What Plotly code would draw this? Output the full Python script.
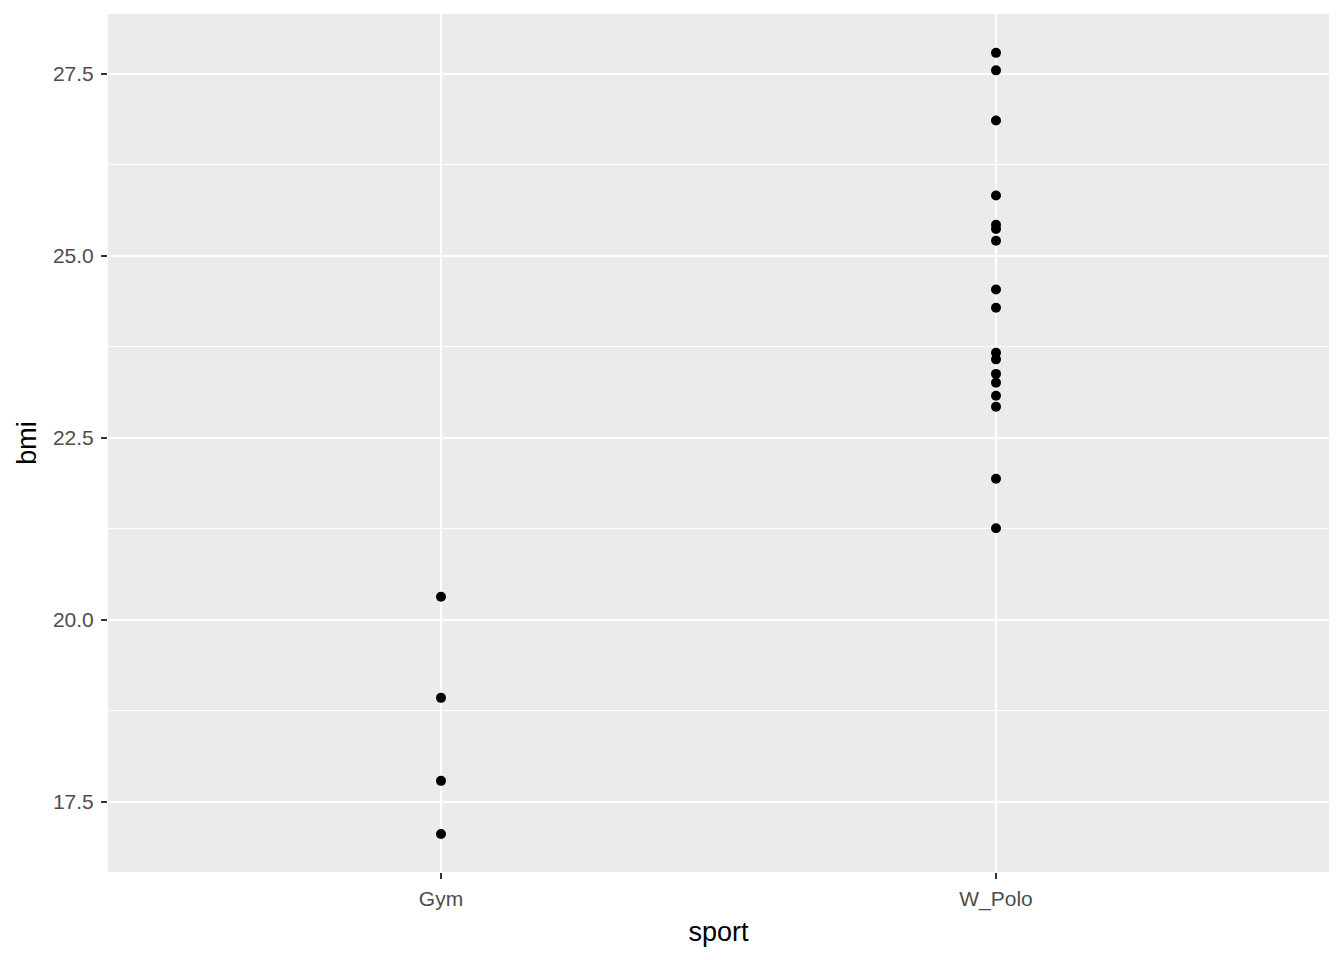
import plotly.graph_objects as go

gym_bmi = [20.32, 18.93, 17.79, 17.06]
wpolo_bmi = [27.79, 27.55, 26.86, 25.83, 25.43, 25.37, 25.21, 24.54, 24.29,
             23.67, 23.58, 23.38, 23.26, 23.08, 22.93, 21.94, 21.26]
categories = ["Gym", "W_Polo"]

xs = [categories[0]] * len(gym_bmi) + [categories[1]] * len(wpolo_bmi)
ys = gym_bmi + wpolo_bmi

fig = go.Figure()
fig.add_trace(go.Scatter(x=xs, y=ys, mode="markers",
                         marker=dict(color="black", size=10),
                         showlegend=False))

font = "Liberation Sans, Arial, sans-serif"
fig.update_layout(
    width=1328, height=944,
    margin=dict(l=100, r=7, t=6, b=80),
    paper_bgcolor="white", plot_bgcolor="#EBEBEB",
    font=dict(family=font),
    xaxis=dict(
        type="category", categoryorder="array", categoryarray=categories,
        range=[-0.6, 1.6], showgrid=True, gridcolor="white", gridwidth=2,
        zeroline=False, ticks="outside", ticklen=6, tickcolor="#333333", tickwidth=1.5,
        ticklabelstandoff=2,
        tickfont=dict(size=21, color="#4D4D4D"),
        title=dict(text="sport", font=dict(size=27, color="black"), standoff=11),
        showline=False,
    ),
    yaxis=dict(
        range=[16.538, 28.324], tick0=17.5, dtick=2.5, tickformat=".1f",
        showgrid=True, gridcolor="white", gridwidth=2,
        minor=dict(dtick=1.25, tick0=17.5, showgrid=True, gridcolor="white", gridwidth=1),
        zeroline=False, ticks="outside", ticklen=6, tickcolor="#333333", tickwidth=1.5,
        ticklabelstandoff=3,
        tickfont=dict(size=21, color="#4D4D4D"),
        title=dict(text="bmi", font=dict(size=27, color="black"), standoff=8),
        showline=False,
    ),
)
fig.write_html("out.html")
